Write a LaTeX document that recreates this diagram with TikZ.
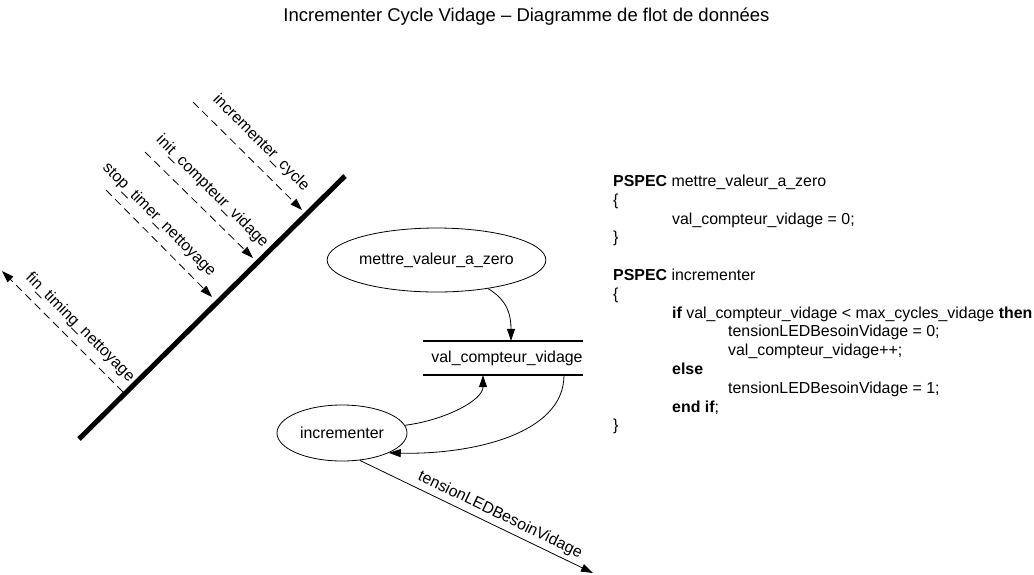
\documentclass[tikz,border=0pt]{standalone}
\usepackage{fontspec}
\setmainfont{Liberation Sans}
\usetikzlibrary{arrows.meta,shapes.geometric}
\begin{document}
\begin{tikzpicture}[x=1pt,y=-1pt,
  txt/.style={font=\fontsize{15.9}{19}\selectfont, inner sep=0pt},
  proc/.style={draw, ellipse, line width=0.8pt, inner sep=0pt, font=\fontsize{15.9}{19}\selectfont},
  flow/.style={line width=0.8pt, -{Triangle[length=12pt,width=8pt]}},
  ctrl/.style={flow, dash pattern=on 8pt off 5pt},
  lbl/.style={font=\fontsize{15.9}{19}\selectfont, inner sep=0pt},
  code/.style={font=\fontsize{15.9}{19}\selectfont, inner sep=0pt, anchor=base west},
  bar/.style={line width=5pt},
  storeline/.style={line width=1.8pt},
]
\useasboundingbox (0,0) rectangle (1034,574);

% title
\node[font=\fontsize{18.5}{22}\selectfont, anchor=base, inner sep=0pt] (title) at (526.5,21.5) {Incrementer Cycle Vidage – Diagramme de flot de données};

% context boundary
\coordinate (barA) at (79,439);
\coordinate (barB) at (345,176);
\draw[bar] (barA) -- (barB);

% control flows
\coordinate (icS) at (193,102);
\coordinate (icE) at (302,210);
\draw[ctrl] (icS) -- (icE);
\node[lbl, rotate=-45] (icL) at (261,143) {incrementer\_cycle};

\coordinate (inS) at (145,152);
\coordinate (inE) at (253,258);
\draw[ctrl] (inS) -- (inE);
\node[lbl, rotate=-45] (inL) at (212,191.5) {init\_compteur\_vidage};

\coordinate (stS) at (106,190);
\coordinate (stE) at (212,297);
\draw[ctrl] (stS) -- (stE);
\node[lbl, rotate=-45] (stL) at (159,220) {stop\_timer\_nettoyage};

\coordinate (fiS) at (123,392);
\coordinate (fiE) at (2,271);
\draw[ctrl] (fiS) -- (fiE);
\node[lbl, rotate=-45] (fiL) at (80,327.5) {fin\_timing\_nettoyage};

% processes
\node[proc, minimum width=189pt, minimum height=64pt] (mettre) at (436.5,260) {mettre\_valeur\_a\_zero};
\node[proc, minimum width=130pt, minimum height=56pt] (incr) at (342,433) {incrementer};

% data store
\node[txt, minimum width=159pt, minimum height=34pt] (store) at (503,358) {\hspace*{8pt}val\_compteur\_vidage};
\draw[storeline] (store.north west) -- (store.north east);
\draw[storeline] (store.south west) -- (store.south east);

\coordinate (sIn) at ([xshift=8pt]store.north);
\coordinate (sUp) at ([xshift=-20pt]store.south);
\coordinate (sOut) at ([xshift=61pt]store.south);

\draw[flow] (mettre.-29) .. controls +(20,12) and +(0,-25) .. (sIn);
\draw[flow] (incr.7) .. controls +(40,-5) and +(0,25) .. (sUp);
\draw[flow] (sOut) .. controls +(0,60) and +(80,2) .. (incr.-23);

\coordinate (tEnd) at (593,573);
\draw[flow] (incr.-57) -- (tEnd);
\node[lbl, rotate=-25.8] (tL) at (500,515) {tensionLEDBesoinVidage};

% PSPEC text
\node[code] (c1) at (613,186.5) {\textbf{PSPEC} mettre\_valeur\_a\_zero};
\node[code] (c2) at (613,205.3) {\{};
\node[code] (c3) at (672,224.1) {val\_compteur\_vidage = 0;};
\node[code] (c4) at (613,242.9) {\}};
\node[code] (c5) at (613,280.5) {\textbf{PSPEC} incrementer};
\node[code] (c6) at (613,299.3) {\{};
\node[code] (c7) at (672,318.1) {\textbf{if} val\_compteur\_vidage < max\_cycles\_vidage \textbf{then}};
\node[code] (c8) at (728,336.9) {tensionLEDBesoinVidage = 0;};
\node[code] (c9) at (728,355.7) {val\_compteur\_vidage++;};
\node[code] (c10) at (672,374.5) {\textbf{else}};
\node[code] (c11) at (728,393.3) {tensionLEDBesoinVidage = 1;};
\node[code] (c12) at (672,412.1) {\textbf{end if};};
\node[code] (c13) at (613,430.9) {\}};
\end{tikzpicture}
\end{document}
